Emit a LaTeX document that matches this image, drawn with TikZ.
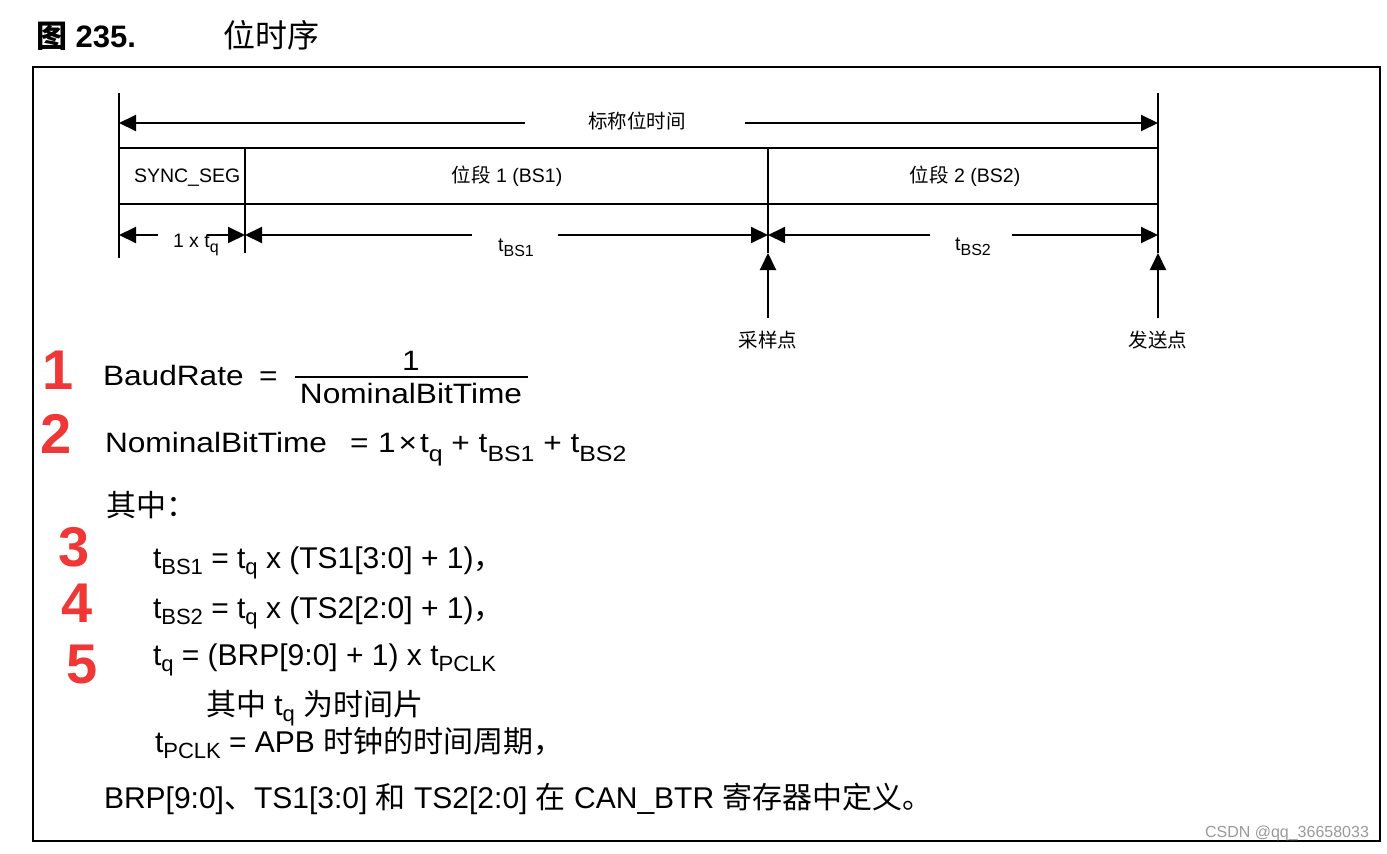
\documentclass[tikz,border=0pt]{standalone}
\usepackage{fontspec}
\setmainfont{Liberation Sans}
\newfontfamily\cjk{Noto Sans CJK SC}
\newfontfamily\fmla{Liberation Sans}[FakeStretch=1.13]
\usetikzlibrary{arrows.meta}
\definecolor{handred}{RGB}{240,55,55}
\newcommand\zh[1]{{\cjk #1}}
\newcommand\fs[1]{\fontsize{#1}{#1}\selectfont}
\newcommand\sbx[3]{\raisebox{-#2pt}{\fontsize{#1}{#1}\selectfont #3}}
\begin{document}
\begin{tikzpicture}[x=1pt,y=-1pt, line width=2pt,
  >={Triangle[length=17pt,width=16pt]},
  lbl/.style={inner sep=0pt, font=\fs{19.5}},
  eq/.style={inner sep=0pt, anchor=base west, font=\fs{30}},
  eqs/.style={inner sep=0pt, anchor=base west, font=\fmla\fs{28}},
  hand/.style={inner sep=0pt, text=handred, font=\bfseries\fs{56}}]
\useasboundingbox (0,0) rectangle (1387,854);
% title
\node[anchor=base west, inner sep=0pt, font=\fs{31}] (fig) at (35,47) {\zh{\bfseries 图} \bfseries 235.};
\node[anchor=base west, inner sep=0pt, font=\fs{32}] (ttl) at (222,47) {\zh{位时序}};
% frame
\draw[line width=2.5pt] (33,67) rectangle (1380,841);
% timing diagram
\draw (119,93) -- (119,258);
\draw (1158,93) -- (1158,253);
\draw[->] (525,123) -- (119,123);
\draw[->] (745,123) -- (1158,123);
\node[lbl] (nom) at (637,121) {\zh{标称位时间}};
\draw (119,148) -- (1158,148);
\draw (119,204) -- (1158,204);
\draw (245,148) -- (245,253);
\draw (768,148) -- (768,253);
\node[lbl, anchor=base west] (sync) at (133,182) {SYNC\_SEG};
\node[lbl, anchor=base] (bs1) at (507,182) {\zh{位段} 1 (BS1)};
\node[lbl, anchor=base] (bs2) at (965,182) {\zh{位段} 2 (BS2)};
\draw[->] (158,235) -- (119,235);
\draw[->] (207,235) -- (245,235);
\draw[->] (472,235) -- (245,235);
\draw[->] (558,235) -- (768,235);
\draw[->] (930,235) -- (768,235);
\draw[->] (1012,235) -- (1158,235);
\node[lbl, anchor=base west] (tq) at (172,247) {1 x t\sbx{16}{5}{q}};
\node[lbl, anchor=base] (tbs1) at (516,251) {t\sbx{16}{5}{BS1}};
\node[lbl, anchor=base] (tbs2) at (973,250) {t\sbx{16}{5}{BS2}};
\draw[->] (768,318) -- (768,253);
\draw[->] (1158,318) -- (1158,253);
\node[lbl] (samp) at (768,340) {\zh{采样点}};
\node[lbl] (send) at (1158,340) {\zh{发送点}};
% formulas
\node[eqs] (br) at (102,385) {BaudRate};
\node[eqs] (breq) at (258,385) {=};
\draw[line width=1.5pt] (295,377) -- (528,377);
\node[eqs, anchor=base] (num) at (411,370) {1};
\node[eqs, anchor=base] (den) at (411,403) {NominalBitTime};
\node[eqs] (nbt) at (104,452) {NominalBitTime};
\node[eqs] (nbteq) at (349,452) {=};
\node[eqs] (sum) at (377,452) {1\hspace{3pt}×\hspace{3pt}t\sbx{22}{9}{q} + t\sbx{22}{9}{BS1} + t\sbx{22}{9}{BS2}};
\node[eq] (qz) at (105,516) {\zh{其中：}};
\node[eq] (f3) at (152,568) {t\sbx{22}{6}{BS1} = t\sbx{22}{6}{q} x (TS1[3:0] + 1)\zh{，}};
\node[eq] (f4) at (152,618) {t\sbx{22}{6}{BS2} = t\sbx{22}{6}{q} x (TS2[2:0] + 1)\zh{，}};
\node[eq] (f5) at (152,665) {t\sbx{22}{6}{q} = (BRP[9:0] + 1) x t\sbx{22}{6}{PCLK}};
\node[eq] (f6) at (205,715) {\zh{其中} t\sbx{22}{6}{q} \zh{为时间片}};
\node[eq] (f7) at (154,752) {t\sbx{22}{6}{PCLK} = APB \zh{时钟的时间周期，}};
\node[eq] (f8) at (103,808) {BRP[9:0]\zh{、}TS1[3:0] \zh{和} TS2[2:0] \zh{在} CAN\_BTR \zh{寄存器中定义。}};
% handwritten numbers
\node[hand] (n1) at (58,370) {1};
\node[hand] (n2) at (56,434) {2};
\node[hand] (n3) at (74,547) {3};
\node[hand] (n4) at (77,603) {4};
\node[hand] (n5) at (82,665) {5};
% watermark
\node[inner sep=0pt, font=\fs{16}, text=black!40] (wm) at (1287,833) {CSDN @qq\_36658033};
\end{tikzpicture}
\end{document}
